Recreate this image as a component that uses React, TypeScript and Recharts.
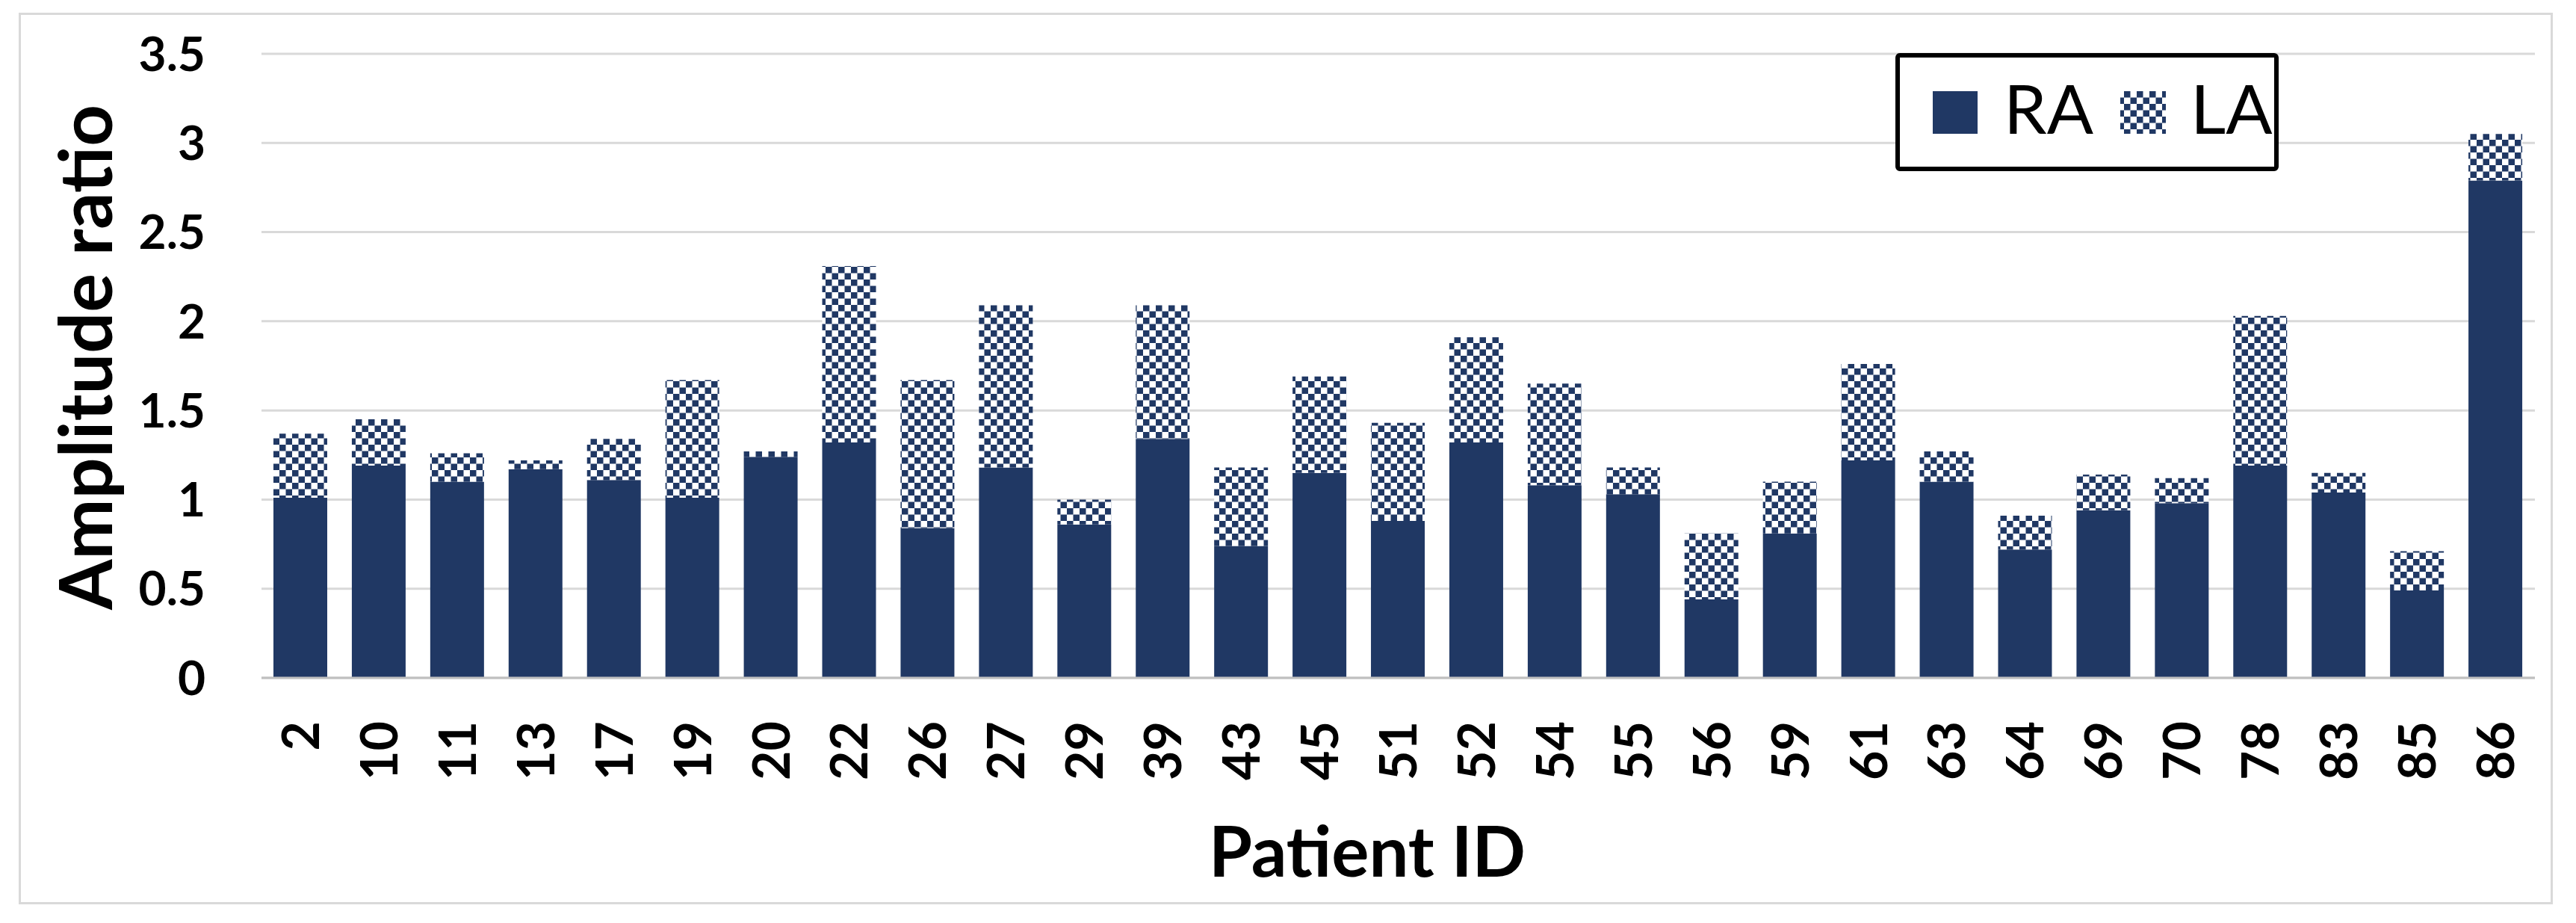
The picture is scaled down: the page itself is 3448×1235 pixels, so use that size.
import { Bar, BarChart, CartesianGrid, Legend, XAxis, YAxis } from 'recharts'

const patientIds = [
  '2', '10', '11', '13', '17', '19', '20', '22', '26', '27', '29', '39', '43', '45', '51',
  '52', '54', '55', '56', '59', '61', '63', '64', '69', '70', '78', '83', '85', '86',
]

// right atrium part of the stack
const raValues = [
  1.01, 1.19, 1.1, 1.17, 1.11, 1.01, 1.24, 1.32, 0.84, 1.18, 0.86, 1.34, 0.74, 1.15, 0.88,
  1.32, 1.08, 1.03, 0.44, 0.81, 1.22, 1.1, 0.72, 0.94, 0.98, 1.19, 1.04, 0.49, 2.79,
]

// left atrium part stacked on top
const laValues = [
  0.36, 0.26, 0.16, 0.05, 0.23, 0.66, 0.03, 0.99, 0.83, 0.91, 0.14, 0.75, 0.44, 0.54, 0.55,
  0.59, 0.57, 0.15, 0.37, 0.29, 0.54, 0.17, 0.19, 0.2, 0.14, 0.84, 0.11, 0.22, 0.26,
]

const yTicks = [0, 0.5, 1, 1.5, 2, 2.5, 3, 3.5]

const NAVY = '#203864'
const FONT = 'Lato, "Open Sans", sans-serif'

const data = patientIds.map((id, i) => ({ id, RA: raValues[i], LA: laValues[i] }))

function CheckerPattern({ id }: { id: string }) {
  return (
    <pattern id={id} patternUnits="userSpaceOnUse" width={17} height={17}>
      <rect width={17} height={17} fill="#fff" />
      <rect x={0} y={0} width={8.5} height={8.5} fill={NAVY} />
      <rect x={8.5} y={8.5} width={8.5} height={8.5} fill={NAVY} />
    </pattern>
  )
}

function PatientTick({ x, y, payload }: { x?: number; y?: number; payload?: { value: string } }) {
  return (
    <text
      x={x}
      y={y}
      transform={`rotate(-90, ${x}, ${y})`}
      textAnchor="end"
      dy="0.36em"
      fontFamily={FONT}
      fontWeight={700}
      fontSize={68}
      fill="#000"
    >
      {payload?.value}
    </text>
  )
}

function LegendBox() {
  return (
    <svg width={513} height={158} style={{ display: 'block' }}>
      <defs>
        <CheckerPattern id="checkerLegend" />
      </defs>
      <rect x={3} y={3} width={507} height={152} rx={3} fill="#fff" stroke="#000" strokeWidth={6} />
      <rect x={50} y={51} width={60} height={57} fill={NAVY} />
      <text x={145} y={108} fontFamily={FONT} fontSize={92} fill="#000">RA</text>
      <rect x={301} y={51} width={61} height={57} fill="url(#checkerLegend)" />
      <text x={395} y={108} fontFamily={FONT} fontSize={92} fill="#000">LA</text>
    </svg>
  )
}

export default function App() {
  return (
    <div style={{ position: 'absolute', left: 0, top: 0, width: 3448, height: 1235, background: '#fff' }}>
      <div
        style={{
          position: 'absolute',
          left: 25,
          top: 17,
          width: 3392,
          height: 1193,
          border: '3px solid #d9d9d9',
          boxSizing: 'border-box',
        }}
      />
      <BarChart
        width={3448}
        height={1235}
        data={data}
        margin={{ top: 72, right: 55, bottom: 0, left: 0 }}
        barSize={72}
      >
        <defs>
          <CheckerPattern id="checkerBar" />
        </defs>
        <CartesianGrid vertical={false} stroke="#d9d9d9" strokeWidth={3} />
        <XAxis
          dataKey="id"
          height={328}
          interval={0}
          tickLine={false}
          tickSize={0}
          tickMargin={58}
          axisLine={{ stroke: '#bfbfbf', strokeWidth: 3 }}
          tick={<PatientTick />}
          label={{
            content: () => (
              <text x={1830} y={1173} textAnchor="middle" fontFamily={FONT} fontWeight={700} fontSize={94} fill="#000">
                Patient ID
              </text>
            ),
          }}
        />
        <YAxis
          width={350}
          domain={[0, 3.5]}
          ticks={yTicks}
          axisLine={false}
          tickLine={false}
          tickSize={0}
          tickMargin={75}
          tick={{ fontFamily: FONT, fontWeight: 700, fontSize: 64, fill: '#000' }}
          label={{
            content: () => (
              <text
                x={150}
                y={478}
                transform="rotate(-90, 150, 478)"
                textAnchor="middle"
                fontFamily={FONT}
                fontWeight={700}
                fontSize={97}
                fill="#000"
              >
                Amplitude ratio
              </text>
            ),
          }}
        />
        <Legend
          layout="horizontal"
          verticalAlign="middle"
          align="center"
          content={<LegendBox />}
          wrapperStyle={{ left: 2537, top: 71, width: 513, height: 158 }}
        />
        <Bar dataKey="RA" stackId="a" fill={NAVY} isAnimationActive={false} />
        <Bar dataKey="LA" stackId="a" fill="url(#checkerBar)" isAnimationActive={false} />
      </BarChart>
    </div>
  )
}
